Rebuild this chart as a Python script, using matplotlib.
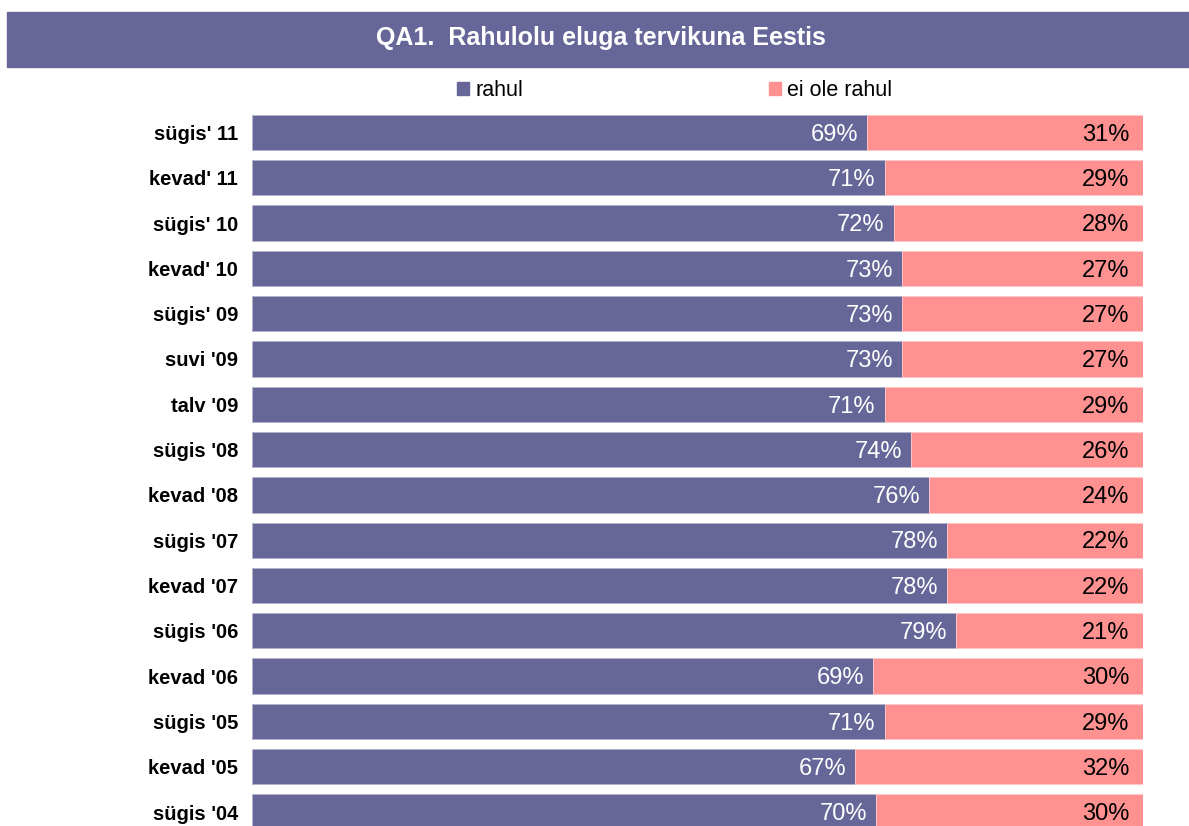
import matplotlib.pyplot as plt
from matplotlib.patches import Rectangle, Patch
import numpy as np

plt.rcParams['font.family'] = ['Liberation Sans', 'DejaVu Sans']

periods = ["sügis' 11", "kevad' 11", "sügis' 10", "kevad' 10", "sügis' 09",
           "suvi '09", "talv '09", "sügis '08", "kevad '08", "sügis '07",
           "kevad '07", "sügis '06", "kevad '06", "sügis '05", "kevad '05",
           "sügis '04"]
rahul = [69, 71, 72, 73, 73, 73, 71, 74, 76, 78, 78, 79, 69, 71, 67, 70]
ei_rahul = [31, 29, 28, 27, 27, 27, 29, 26, 24, 22, 22, 21, 30, 29, 32, 30]

purple = '#666699'
pink = '#ff9191'

r = np.array(rahul, dtype=float)
e = np.array(ei_rahul, dtype=float)
tot = r + e
r_share = r / tot
e_share = e / tot

W, H = 1189, 826
fig = plt.figure(figsize=(W / 100, H / 100), dpi=100)

# title band
fig.patches.append(Rectangle((7 / W, 1 - 67 / H), 1 - 7 / W, 55 / H,
                             transform=fig.transFigure, color=purple, zorder=0))
fig.text(601 / W, 1 - 38 / H, 'QA1.  Rahulolu eluga tervikuna Eestis',
         color='white', fontsize=18, fontweight='bold', ha='center', va='center')

ax = fig.add_axes([252 / W, 0, (1143 - 252) / W, 1 - 110 / H])
y = np.arange(len(periods))
ax.barh(y, r_share, height=0.78, color=purple, edgecolor='#b3b3cc', linewidth=0.6)
ax.barh(y, e_share, left=r_share, height=0.78, color=pink, edgecolor='#ffc8c8', linewidth=0.6)

for i in range(len(periods)):
    ax.text(r_share[i] - 0.01, y[i] + 0.05, f'{rahul[i]}%', color='white',
            fontsize=17, ha='right', va='center')
    ax.text(0.985, y[i] + 0.05, f'{ei_rahul[i]}%', color='black',
            fontsize=17, ha='right', va='center')

ax.set_xlim(0, 1)
ax.set_ylim((826 - 132.5) / 45.3, (110 - 132.5) / 45.3)
ax.set_yticks(y)
ax.set_yticklabels(periods, fontsize=14.5, fontweight='bold')
ax.tick_params(axis='y', length=0, pad=10)
ax.set_xticks([])
for s in ax.spines.values():
    s.set_visible(False)

handles = [Patch(color=purple, label='rahul'), Patch(color=pink, label='ei ole rahul')]
fig.legend(handles=handles, loc='center', bbox_to_anchor=(675 / W, 1 - 91 / H),
           ncol=2, frameon=False, fontsize=15.5, handlelength=0.55, handleheight=0.55,
           handletextpad=0.3, columnspacing=11.4, borderaxespad=0)

fig.savefig('out.png', dpi=100)
